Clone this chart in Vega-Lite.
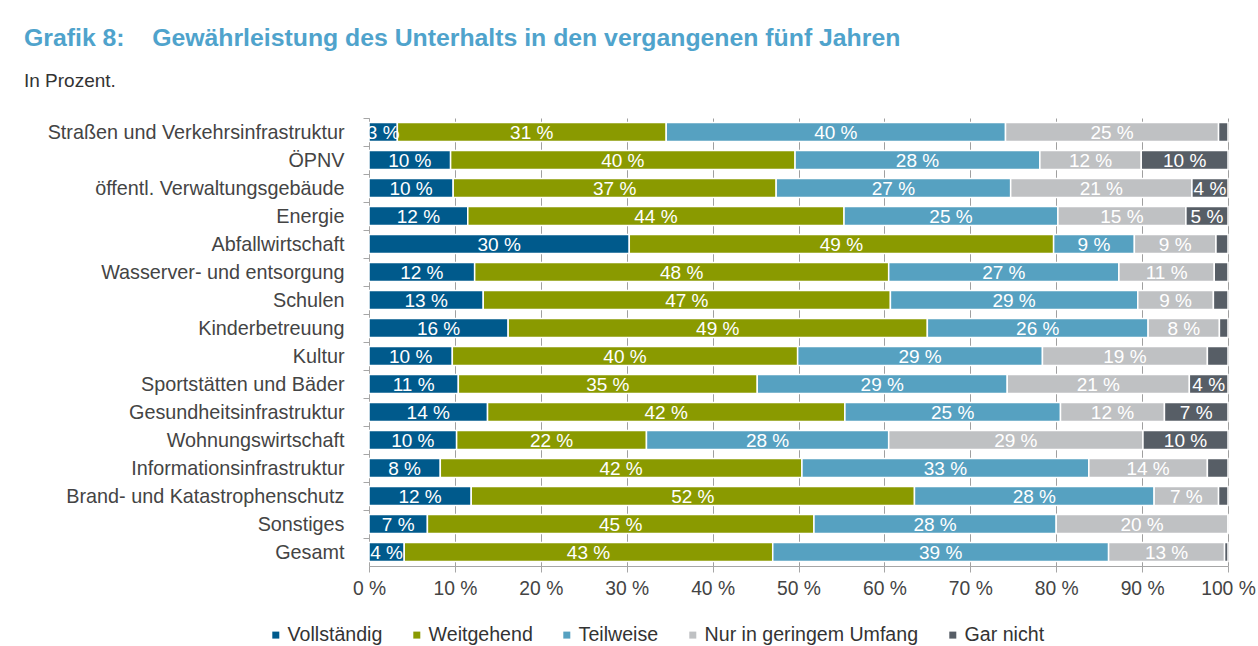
{
  "$schema": "https://vega.github.io/schema/vega-lite/v6.json",
  "width": 859,
  "height": 448,
  "autosize": {"type": "none"},
  "padding": {"left": 369, "top": 118, "right": 30, "bottom": 80},
  "background": "white",
  "title": {
    "text": "Grafik 8:\u00a0\u00a0\u00a0\u00a0Gewährleistung des Unterhalts in den vergangenen fünf Jahren",
    "subtitle": "In Prozent.",
    "anchor": "start",
    "frame": "group",
    "dx": -345,
    "offset": 27,
    "font": "Liberation Sans",
    "fontSize": 24.8,
    "fontWeight": "bold",
    "color": "#4fa3cc",
    "subtitleFont": "Liberation Sans",
    "subtitleFontSize": 19,
    "subtitleColor": "#333333",
    "subtitlePadding": 21
  },
  "data": {"values": [
    {"c":"Straßen und Verkehrsinfrastruktur\u00a0","s":"Vollständig","k":1,"v":3.3,"t":"3 %"},
    {"c":"Straßen und Verkehrsinfrastruktur\u00a0","s":"Weitgehend","k":2,"v":31.3,"t":"31 %"},
    {"c":"Straßen und Verkehrsinfrastruktur\u00a0","s":"Teilweise","k":3,"v":39.5,"t":"40 %"},
    {"c":"Straßen und Verkehrsinfrastruktur\u00a0","s":"Nur in geringem Umfang","k":4,"v":24.8,"t":"25 %"},
    {"c":"Straßen und Verkehrsinfrastruktur\u00a0","s":"Gar nicht","k":5,"v":1.1,"t":""},
    {"c":"ÖPNV\u00a0","s":"Vollständig","k":1,"v":9.5,"t":"10 %"},
    {"c":"ÖPNV\u00a0","s":"Weitgehend","k":2,"v":40.1,"t":"40 %"},
    {"c":"ÖPNV\u00a0","s":"Teilweise","k":3,"v":28.5,"t":"28 %"},
    {"c":"ÖPNV\u00a0","s":"Nur in geringem Umfang","k":4,"v":11.8,"t":"12 %"},
    {"c":"ÖPNV\u00a0","s":"Gar nicht","k":5,"v":10.1,"t":"10 %"},
    {"c":"öffentl. Verwaltungsgebäude\u00a0","s":"Vollständig","k":1,"v":9.8,"t":"10 %"},
    {"c":"öffentl. Verwaltungsgebäude\u00a0","s":"Weitgehend","k":2,"v":37.6,"t":"37 %"},
    {"c":"öffentl. Verwaltungsgebäude\u00a0","s":"Teilweise","k":3,"v":27.3,"t":"27 %"},
    {"c":"öffentl. Verwaltungsgebäude\u00a0","s":"Nur in geringem Umfang","k":4,"v":21.1,"t":"21 %"},
    {"c":"öffentl. Verwaltungsgebäude\u00a0","s":"Gar nicht","k":5,"v":4.2,"t":"4 %"},
    {"c":"Energie","s":"Vollständig","k":1,"v":11.5,"t":"12 %"},
    {"c":"Energie","s":"Weitgehend","k":2,"v":43.8,"t":"44 %"},
    {"c":"Energie","s":"Teilweise","k":3,"v":24.9,"t":"25 %"},
    {"c":"Energie","s":"Nur in geringem Umfang","k":4,"v":14.9,"t":"15 %"},
    {"c":"Energie","s":"Gar nicht","k":5,"v":4.9,"t":"5 %"},
    {"c":"Abfallwirtschaft","s":"Vollständig","k":1,"v":30.3,"t":"30 %"},
    {"c":"Abfallwirtschaft","s":"Weitgehend","k":2,"v":49.4,"t":"49 %"},
    {"c":"Abfallwirtschaft","s":"Teilweise","k":3,"v":9.4,"t":"9 %"},
    {"c":"Abfallwirtschaft","s":"Nur in geringem Umfang","k":4,"v":9.5,"t":"9 %"},
    {"c":"Abfallwirtschaft","s":"Gar nicht","k":5,"v":1.4,"t":""},
    {"c":"Wasserver- und entsorgung\u00a0","s":"Vollständig","k":1,"v":12.3,"t":"12 %"},
    {"c":"Wasserver- und entsorgung\u00a0","s":"Weitgehend","k":2,"v":48.2,"t":"48 %"},
    {"c":"Wasserver- und entsorgung\u00a0","s":"Teilweise","k":3,"v":26.8,"t":"27 %"},
    {"c":"Wasserver- und entsorgung\u00a0","s":"Nur in geringem Umfang","k":4,"v":11.1,"t":"11 %"},
    {"c":"Wasserver- und entsorgung\u00a0","s":"Gar nicht","k":5,"v":1.6,"t":""},
    {"c":"Schulen","s":"Vollständig","k":1,"v":13.3,"t":"13 %"},
    {"c":"Schulen","s":"Weitgehend","k":2,"v":47.4,"t":"47 %"},
    {"c":"Schulen","s":"Teilweise","k":3,"v":28.8,"t":"29 %"},
    {"c":"Schulen","s":"Nur in geringem Umfang","k":4,"v":8.8,"t":"9 %"},
    {"c":"Schulen","s":"Gar nicht","k":5,"v":1.7,"t":""},
    {"c":"Kinderbetreuung\u00a0","s":"Vollständig","k":1,"v":16.2,"t":"16 %"},
    {"c":"Kinderbetreuung\u00a0","s":"Weitgehend","k":2,"v":48.8,"t":"49 %"},
    {"c":"Kinderbetreuung\u00a0","s":"Teilweise","k":3,"v":25.7,"t":"26 %"},
    {"c":"Kinderbetreuung\u00a0","s":"Nur in geringem Umfang","k":4,"v":8.3,"t":"8 %"},
    {"c":"Kinderbetreuung\u00a0","s":"Gar nicht","k":5,"v":1.0,"t":""},
    {"c":"Kultur","s":"Vollständig","k":1,"v":9.7,"t":"10 %"},
    {"c":"Kultur","s":"Weitgehend","k":2,"v":40.2,"t":"40 %"},
    {"c":"Kultur","s":"Teilweise","k":3,"v":28.5,"t":"29 %"},
    {"c":"Kultur","s":"Nur in geringem Umfang","k":4,"v":19.2,"t":"19 %"},
    {"c":"Kultur","s":"Gar nicht","k":5,"v":2.4,"t":""},
    {"c":"Sportstätten und Bäder","s":"Vollständig","k":1,"v":10.4,"t":"11 %"},
    {"c":"Sportstätten und Bäder","s":"Weitgehend","k":2,"v":34.8,"t":"35 %"},
    {"c":"Sportstätten und Bäder","s":"Teilweise","k":3,"v":29.1,"t":"29 %"},
    {"c":"Sportstätten und Bäder","s":"Nur in geringem Umfang","k":4,"v":21.2,"t":"21 %"},
    {"c":"Sportstätten und Bäder","s":"Gar nicht","k":5,"v":4.5,"t":"4 %"},
    {"c":"Gesundheitsinfrastruktur\u00a0","s":"Vollständig","k":1,"v":13.8,"t":"14 %"},
    {"c":"Gesundheitsinfrastruktur\u00a0","s":"Weitgehend","k":2,"v":41.6,"t":"42 %"},
    {"c":"Gesundheitsinfrastruktur\u00a0","s":"Teilweise","k":3,"v":25.1,"t":"25 %"},
    {"c":"Gesundheitsinfrastruktur\u00a0","s":"Nur in geringem Umfang","k":4,"v":12.1,"t":"12 %"},
    {"c":"Gesundheitsinfrastruktur\u00a0","s":"Gar nicht","k":5,"v":7.4,"t":"7 %"},
    {"c":"Wohnungswirtschaft\u00a0","s":"Vollständig","k":1,"v":10.2,"t":"10 %"},
    {"c":"Wohnungswirtschaft\u00a0","s":"Weitgehend","k":2,"v":22.1,"t":"22 %"},
    {"c":"Wohnungswirtschaft\u00a0","s":"Teilweise","k":3,"v":28.2,"t":"28 %"},
    {"c":"Wohnungswirtschaft\u00a0","s":"Nur in geringem Umfang","k":4,"v":29.6,"t":"29 %"},
    {"c":"Wohnungswirtschaft\u00a0","s":"Gar nicht","k":5,"v":9.9,"t":"10 %"},
    {"c":"Informationsinfrastruktur\u00a0","s":"Vollständig","k":1,"v":8.3,"t":"8 %"},
    {"c":"Informationsinfrastruktur\u00a0","s":"Weitgehend","k":2,"v":42.1,"t":"42 %"},
    {"c":"Informationsinfrastruktur\u00a0","s":"Teilweise","k":3,"v":33.4,"t":"33 %"},
    {"c":"Informationsinfrastruktur\u00a0","s":"Nur in geringem Umfang","k":4,"v":13.8,"t":"14 %"},
    {"c":"Informationsinfrastruktur\u00a0","s":"Gar nicht","k":5,"v":2.4,"t":""},
    {"c":"Brand- und Katastrophenschutz","s":"Vollständig","k":1,"v":11.9,"t":"12 %"},
    {"c":"Brand- und Katastrophenschutz","s":"Weitgehend","k":2,"v":51.6,"t":"52 %"},
    {"c":"Brand- und Katastrophenschutz","s":"Teilweise","k":3,"v":27.9,"t":"28 %"},
    {"c":"Brand- und Katastrophenschutz","s":"Nur in geringem Umfang","k":4,"v":7.5,"t":"7 %"},
    {"c":"Brand- und Katastrophenschutz","s":"Gar nicht","k":5,"v":1.1,"t":""},
    {"c":"Sonstiges\u00a0","s":"Vollständig","k":1,"v":6.8,"t":"7 %"},
    {"c":"Sonstiges\u00a0","s":"Weitgehend","k":2,"v":45.0,"t":"45 %"},
    {"c":"Sonstiges\u00a0","s":"Teilweise","k":3,"v":28.2,"t":"28 %"},
    {"c":"Sonstiges\u00a0","s":"Nur in geringem Umfang","k":4,"v":20.0,"t":"20 %"},
    {"c":"Sonstiges\u00a0","s":"Gar nicht","k":5,"v":0,"t":""},
    {"c":"Gesamt\u00a0","s":"Vollständig","k":1,"v":4.1,"t":"4 %"},
    {"c":"Gesamt\u00a0","s":"Weitgehend","k":2,"v":42.9,"t":"43 %"},
    {"c":"Gesamt\u00a0","s":"Teilweise","k":3,"v":39.1,"t":"39 %"},
    {"c":"Gesamt\u00a0","s":"Nur in geringem Umfang","k":4,"v":13.5,"t":"13 %"},
    {"c":"Gesamt\u00a0","s":"Gar nicht","k":5,"v":0.4,"t":""}
  ]},
  "encoding": {
    "y": {
      "field": "c",
      "type": "nominal",
      "sort": null,
      "title": null,
      "scale": {"paddingInner": 0.32, "paddingOuter": 0.16},
      "axis": {
        "domainColor": "#a6a6a6",
        "tickColor": "#a6a6a6",
        "tickSize": 6,
        "tickOffset": -14,
        "labelOffset": 14,
        "labelPadding": 19,
        "labelFont": "Liberation Sans",
        "labelFontSize": 19.8,
        "labelColor": "#444444",
        "labelLimit": 500,
        "grid": false
      }
    }
  },
  "layer": [
    {
      "mark": {"type": "bar", "stroke": "white", "strokeWidth": 1.5},
      "encoding": {
        "x": {
          "field": "v",
          "type": "quantitative",
          "stack": "zero",
          "scale": {"domain": [0, 100], "nice": false},
          "axis": {
            "title": null,
            "values": [0, 10, 20, 30, 40, 50, 60, 70, 80, 90, 100],
            "labelExpr": "datum.value + ' %'",
            "labelFlush": false,
            "labelOverlap": false,
            "grid": true,
            "gridColor": "#a0a0a0",
            "domainColor": "#a6a6a6",
            "tickColor": "#a6a6a6",
            "tickSize": 6,
            "labelPadding": 7,
            "labelFont": "Liberation Sans",
            "labelFontSize": 19.3,
            "labelColor": "#444444"
          }
        },
        "color": {
          "field": "s",
          "type": "nominal",
          "scale": {
            "domain": ["Vollständig", "Weitgehend", "Teilweise", "Nur in geringem Umfang", "Gar nicht"],
            "range": ["#005a8c", "#8a9a00", "#56a1c1", "#bfc1c3", "#575e66"]
          },
          "legend": {
            "orient": "none",
            "legendX": -103,
            "legendY": 507,
            "direction": "horizontal",
            "title": null,
            "symbolType": "square",
            "symbolSize": 49,
            "symbolStrokeWidth": 0,
            "labelFont": "Liberation Sans",
            "labelFontSize": 19.6,
            "labelColor": "#333333",
            "labelOffset": 2,
            "columnPadding": 24,
            "padding": 0,
            "labelLimit": 400
          }
        },
        "order": {"field": "k"}
      }
    },
    {
      "mark": {"type": "text", "color": "white", "font": "Liberation Sans", "fontSize": 19, "baseline": "middle", "dy": 1},
      "encoding": {
        "x": {"field": "v", "type": "quantitative", "stack": "zero", "bandPosition": 0.5},
        "detail": {"field": "s"},
        "text": {"field": "t"},
        "order": {"field": "k"}
      }
    }
  ],
  "config": {
    "view": {"stroke": null}
  }
}
